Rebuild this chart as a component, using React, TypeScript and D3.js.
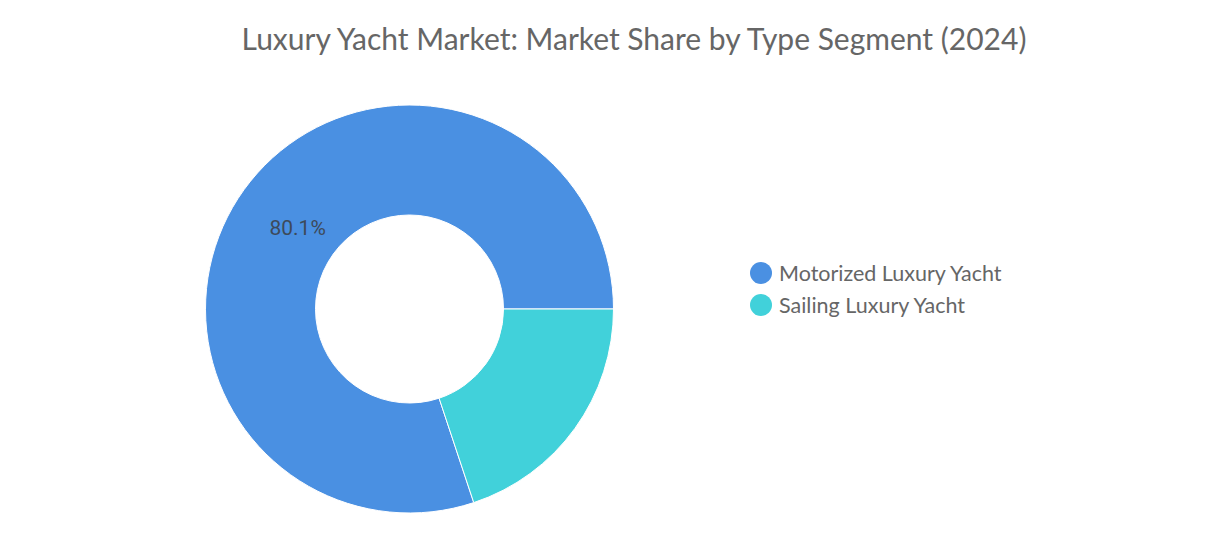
import React from "react";
import * as d3 from "d3";

const categories = ["Motorized Luxury Yacht", "Sailing Luxury Yacht"];
const values = [80.1, 19.9];
const colors = ["#4a90e2", "#41d1da"];
const title = "Luxury Yacht Market: Market Share by Type Segment (2024)";

export default function App() {
  const W = 1219;
  const H = 538;
  const cx = 409.5;
  const cy = 309;
  const outerR = 204;
  const innerR = 94;

  const pie = d3
    .pie<number>()
    .sort(null)
    .startAngle(Math.PI / 2 + (2 * Math.PI * values[1]) / 100)
    .endAngle(Math.PI / 2 + 2 * Math.PI + (2 * Math.PI * values[1]) / 100)
    .value((d) => d);
  const arcs = pie(values);
  const arc = d3.arc<d3.PieArcDatum<number>>().innerRadius(innerR).outerRadius(outerR);
  const labelArc = d3.arc<d3.PieArcDatum<number>>().innerRadius(138).outerRadius(138);

  const color = d3.scaleOrdinal<string, string>().domain(categories).range(colors);

  return (
    <svg
      width={W}
      height={H}
      style={{ position: "absolute", left: 0, top: 0, background: "#fff" }}
    >
      <text
        x={634}
        y={50}
        textAnchor="middle"
        fontFamily="Lato"
        fontSize={30}
        fill="#666"
      >
        {title}
      </text>
      <g transform={`translate(${cx},${cy})`}>
        {arcs.map((a, i) => (
          <path key={i} d={arc(a) || ""} fill={color(categories[i])} stroke="#fff" strokeWidth={1} />
        ))}
        {arcs.map((a, i) => {
          if (values[i] < 50) return null;
          const [x, y] = labelArc.centroid(a);
          return (
            <text
              key={"l" + i}
              x={x}
              y={y}
              textAnchor="middle"
              dominantBaseline="central"
              fontFamily="Roboto"
              fontSize={21}
              fill="#3d4a5a"
            >
              {values[i].toFixed(1)}%
            </text>
          );
        })}
      </g>
      <g>
        {categories.map((c, i) => (
          <g key={c} transform={`translate(761,${273 + i * 32})`}>
            <circle r={11} fill={color(c)} />
            <text x={18} y={0} dominantBaseline="central" fontFamily="Lato" fontSize={21.5} fill="#666">
              {c}
            </text>
          </g>
        ))}
      </g>
    </svg>
  );
}
